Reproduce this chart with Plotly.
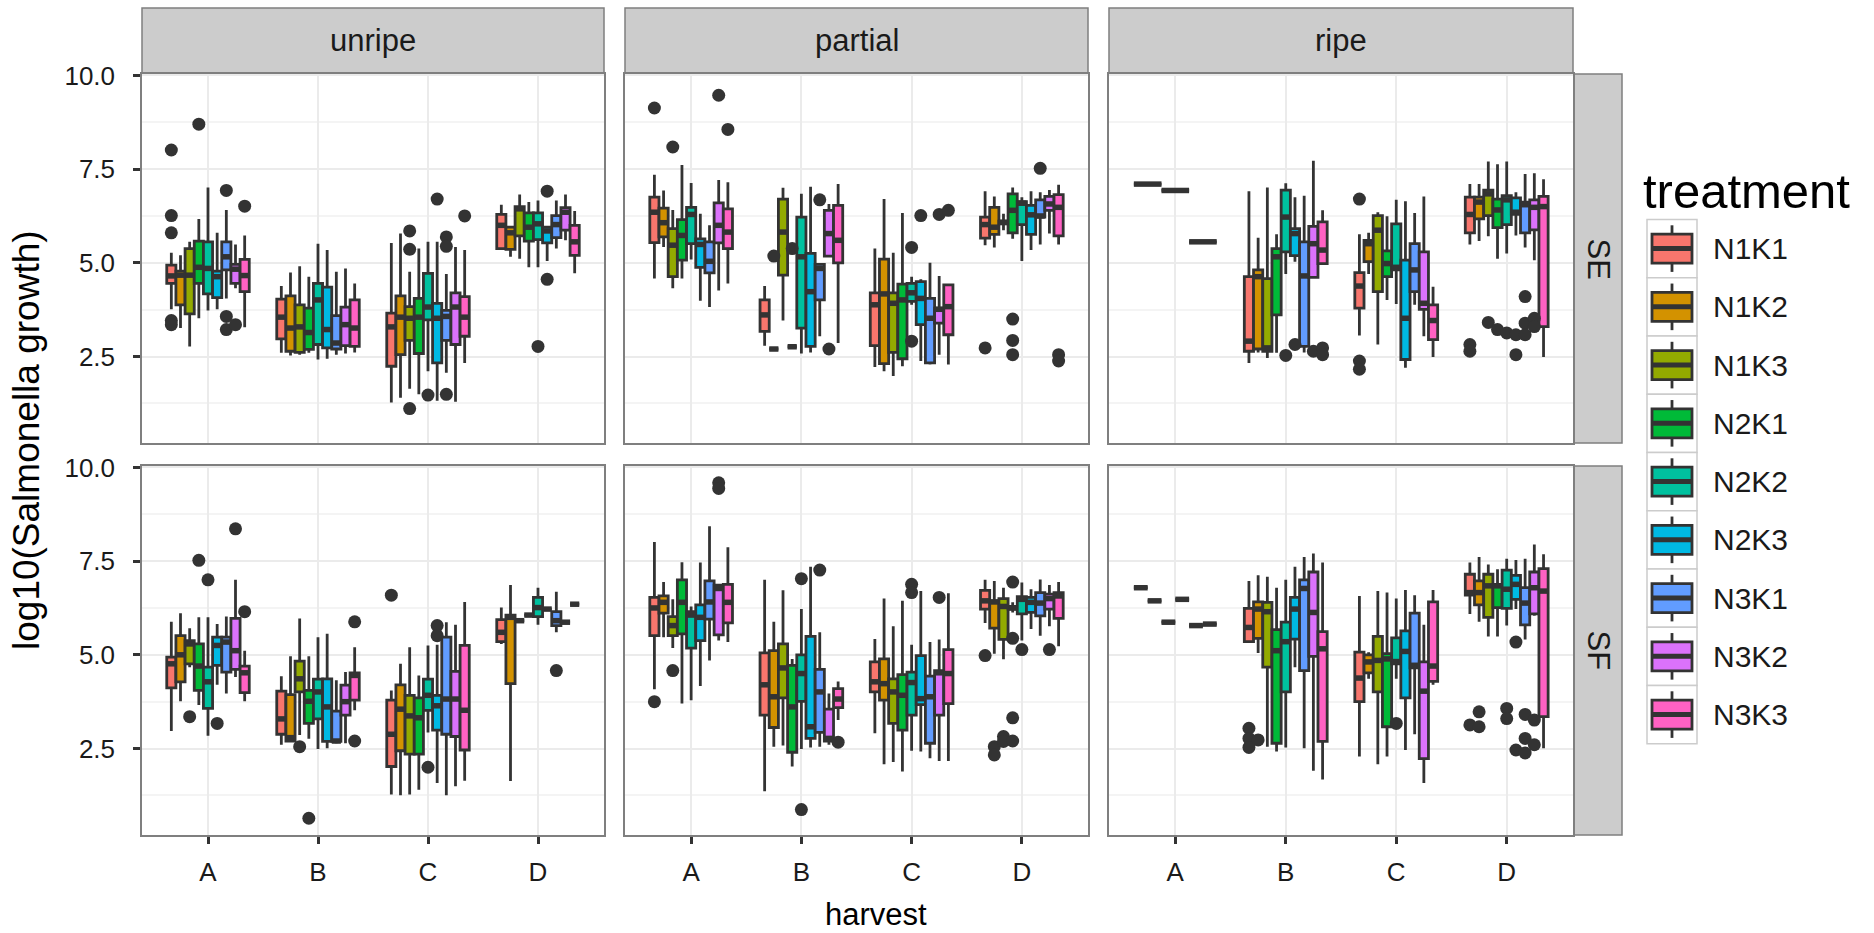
import plotly.graph_objects as go

harvests = ["A", "B", "C", "D"]
treatments = ["N1K1", "N1K2", "N1K3", "N2K1", "N2K2", "N2K3", "N3K1", "N3K2", "N3K3"]
colors = ["#F8766D", "#D39200", "#93AA00", "#00BA38", "#00C19F",
          "#00B9E3", "#619CFF", "#DB72FB", "#FF61C3"]
ripeness = ["unripe", "partial", "ripe"]
strains = ["SE", "SF"]

# box statistics: (harvest, treatment, lower whisker, q1, median, q3, upper whisker)
SE_unripe = [
    ("A", "N1K1", 3.76, 4.45, 4.65, 4.94, 5.27), ("A", "N1K2", 3.26, 3.88, 4.67, 4.78, 5.20),
    ("A", "N1K3", 2.77, 3.64, 4.67, 5.38, 5.56), ("A", "N2K1", 3.52, 4.45, 4.88, 5.58, 6.17),
    ("A", "N2K2", 3.73, 4.17, 4.85, 5.56, 7.01), ("A", "N2K3", 3.76, 4.07, 4.63, 4.78, 5.80),
    ("A", "N3K1", 4.05, 4.81, 5.16, 5.56, 6.41), ("A", "N3K2", 4.32, 4.45, 4.83, 4.96, 5.49),
    ("A", "N3K3", 3.28, 4.23, 4.66, 5.09, 5.73),
    ("B", "N1K1", 2.60, 2.97, 3.55, 4.03, 4.38), ("B", "N1K2", 2.53, 2.64, 3.26, 4.12, 4.74),
    ("B", "N1K3", 2.55, 2.61, 3.29, 3.88, 4.91), ("B", "N2K1", 2.60, 2.69, 3.14, 3.79, 4.63),
    ("B", "N2K2", 2.42, 2.82, 4.01, 4.45, 5.51), ("B", "N2K3", 2.44, 2.73, 3.22, 4.35, 5.34),
    ("B", "N3K1", 2.55, 2.70, 2.86, 3.59, 4.76), ("B", "N3K2", 2.58, 2.79, 3.35, 3.82, 4.85),
    ("B", "N3K3", 2.61, 2.77, 3.26, 4.01, 4.45),
    ("C", "N1K1", 1.27, 2.24, 3.29, 3.66, 5.53), ("C", "N1K2", 1.40, 2.55, 3.55, 4.12, 5.78),
    ("C", "N1K3", 1.64, 2.93, 3.52, 3.83, 4.76), ("C", "N2K1", 1.49, 2.58, 3.55, 4.05, 5.38),
    ("C", "N2K2", 2.11, 3.48, 3.82, 4.72, 5.56), ("C", "N2K3", 1.32, 2.33, 3.52, 3.92, 5.56),
    ("C", "N3K1", 2.07, 2.93, 3.57, 3.73, 4.70), ("C", "N3K2", 1.29, 2.82, 3.82, 4.20, 5.42),
    ("C", "N3K3", 2.33, 3.04, 3.55, 4.10, 5.34),
    ("D", "N1K1", 5.38, 5.38, 6.00, 6.29, 6.55), ("D", "N1K2", 5.16, 5.36, 5.80, 5.95, 5.95),
    ("D", "N1K3", 5.11, 5.72, 6.44, 6.50, 6.82), ("D", "N2K1", 4.88, 5.58, 5.95, 6.33, 6.62),
    ("D", "N2K2", 4.88, 5.62, 6.04, 6.33, 6.66), ("D", "N2K3", 5.05, 5.53, 5.85, 5.95, 5.95),
    ("D", "N3K1", 5.38, 5.67, 6.02, 6.26, 6.66), ("D", "N3K2", 5.60, 5.87, 6.35, 6.47, 6.82),
    ("D", "N3K3", 4.72, 5.20, 5.56, 6.00, 6.38),
]
SE_unripe_outliers = [
    ("A", "N1K1", 8.01), ("A", "N1K1", 6.26), ("A", "N1K1", 5.80), ("A", "N1K1", 3.46),
    ("A", "N1K1", 3.35), ("A", "N2K1", 8.70), ("A", "N3K1", 6.93), ("A", "N3K1", 3.57),
    ("A", "N3K1", 3.22), ("A", "N3K2", 3.35), ("A", "N3K3", 6.51),
    ("C", "N1K3", 5.85), ("C", "N1K3", 5.36), ("C", "N1K3", 1.11), ("C", "N2K2", 1.47),
    ("C", "N2K3", 6.70), ("C", "N3K1", 5.69), ("C", "N3K1", 5.44), ("C", "N3K1", 1.49),
    ("C", "N3K3", 6.25),
    ("D", "N2K2", 2.77), ("D", "N2K3", 6.91), ("D", "N2K3", 4.56),
]

SE_partial = [
    ("A", "N1K1", 4.58, 5.54, 6.35, 6.75, 7.35), ("A", "N1K2", 5.42, 5.69, 6.07, 6.46, 6.93),
    ("A", "N1K3", 4.32, 4.63, 5.47, 5.91, 6.41), ("A", "N2K1", 4.58, 5.07, 5.73, 6.15, 7.61),
    ("A", "N2K2", 5.09, 5.51, 6.29, 6.48, 7.13), ("A", "N2K3", 3.99, 4.88, 5.49, 5.64, 6.31),
    ("A", "N3K1", 3.82, 4.73, 5.04, 5.56, 6.00), ("A", "N3K2", 4.26, 5.53, 6.00, 6.60, 7.21),
    ("A", "N3K3", 4.45, 5.38, 5.82, 6.44, 7.15),
    ("B", "N1K1", 2.79, 3.17, 3.61, 4.01, 4.38), ("B", "N1K2", 2.70, 2.70, 2.70, 2.70, 2.70),
    ("B", "N1K3", 3.46, 4.67, 5.82, 6.70, 7.00), ("B", "N2K1", 2.76, 2.76, 2.76, 2.76, 2.76),
    ("B", "N2K2", 2.58, 3.26, 5.16, 6.22, 6.84), ("B", "N2K3", 2.61, 2.77, 4.23, 5.25, 7.03),
    ("B", "N3K1", 3.04, 4.01, 4.85, 4.96, 4.96), ("B", "N3K2", 5.18, 5.18, 5.78, 6.40, 6.57),
    ("B", "N3K3", 2.86, 5.00, 5.60, 6.53, 7.10),
    ("C", "N1K1", 2.22, 2.79, 3.88, 4.20, 5.38), ("C", "N1K2", 2.11, 2.31, 4.17, 5.10, 6.70),
    ("C", "N1K3", 1.98, 2.61, 3.92, 4.20, 5.27), ("C", "N2K1", 2.24, 2.44, 4.01, 4.43, 6.33),
    ("C", "N2K2", 3.88, 3.97, 4.20, 4.45, 4.63), ("C", "N2K3", 2.38, 3.35, 4.05, 4.50, 4.56),
    ("C", "N3K1", 2.29, 2.33, 3.52, 4.05, 5.00), ("C", "N3K2", 2.55, 3.39, 3.76, 3.79, 4.65),
    ("C", "N3K3", 2.29, 3.08, 3.83, 4.41, 4.41),
    ("D", "N1K1", 5.47, 5.66, 6.02, 6.22, 6.91), ("D", "N1K2", 5.41, 5.76, 5.95, 6.48, 6.77),
    ("D", "N1K3", 5.87, 6.04, 6.08, 6.11, 6.31), ("D", "N2K1", 5.64, 5.80, 6.40, 6.84, 7.01),
    ("D", "N2K2", 5.05, 6.02, 6.59, 6.63, 6.75), ("D", "N2K3", 5.34, 5.76, 6.28, 6.53, 6.91),
    ("D", "N3K1", 5.49, 6.22, 6.25, 6.68, 6.88), ("D", "N3K2", 5.78, 6.40, 6.57, 6.77, 6.94),
    ("D", "N3K3", 5.49, 5.72, 6.48, 6.82, 7.08),
]
SE_partial_outliers = [
    ("A", "N1K1", 9.13), ("A", "N1K3", 8.09), ("A", "N3K2", 9.47), ("A", "N3K3", 8.56),
    ("B", "N1K2", 5.18), ("B", "N2K1", 5.38), ("B", "N3K1", 6.68), ("B", "N3K2", 2.70),
    ("C", "N2K2", 5.41), ("C", "N2K2", 2.91), ("C", "N2K3", 6.26), ("C", "N3K2", 6.29),
    ("C", "N3K3", 6.40),
    ("D", "N1K1", 2.73), ("D", "N2K1", 3.50), ("D", "N2K1", 2.93), ("D", "N2K1", 2.55),
    ("D", "N3K1", 7.52), ("D", "N3K3", 2.55), ("D", "N3K3", 2.38),
]

SE_ripe = [
    ("A", "N1K1", 7.10, 7.10, 7.10, 7.10, 7.10), ("A", "N1K2", 6.93, 6.93, 6.93, 6.93, 6.93),
    ("A", "N1K3", 5.56, 5.56, 5.56, 5.56, 5.56),
    ("B", "N1K1", 2.33, 2.64, 2.91, 4.63, 6.91), ("B", "N1K2", 2.61, 2.70, 4.63, 4.81, 5.67),
    ("B", "N1K3", 2.46, 2.64, 2.73, 4.58, 7.01), ("B", "N2K1", 2.60, 3.61, 5.16, 5.38, 5.76),
    ("B", "N2K2", 4.70, 5.29, 6.22, 6.94, 7.12), ("B", "N2K3", 5.03, 5.19, 5.78, 5.91, 6.75),
    ("B", "N3K1", 2.61, 2.77, 4.65, 5.56, 6.79), ("B", "N3K2", 4.61, 4.61, 5.51, 5.97, 7.72),
    ("B", "N3K3", 4.98, 4.98, 5.34, 6.09, 6.40),
    ("C", "N1K1", 3.06, 3.79, 4.38, 4.74, 5.76), ("C", "N1K2", 4.70, 5.03, 5.51, 5.60, 5.80),
    ("C", "N1K3", 2.82, 4.23, 5.87, 6.26, 6.35), ("C", "N2K1", 4.01, 4.63, 4.98, 5.32, 6.24),
    ("C", "N2K2", 3.90, 4.81, 4.88, 6.04, 6.68), ("C", "N2K3", 2.20, 2.42, 3.52, 5.07, 6.64),
    ("C", "N3K1", 3.88, 4.23, 4.81, 5.51, 6.33), ("C", "N3K2", 3.04, 3.76, 3.92, 5.29, 6.77),
    ("C", "N3K3", 2.49, 2.95, 3.46, 3.88, 4.36),
    ("D", "N1K1", 5.49, 5.80, 6.29, 6.75, 7.10), ("D", "N1K2", 5.58, 6.17, 6.62, 6.75, 7.10),
    ("D", "N1K3", 5.71, 6.26, 6.84, 6.94, 7.70), ("D", "N2K1", 5.11, 5.94, 6.41, 6.70, 7.63),
    ("D", "N2K2", 5.25, 6.02, 6.68, 6.79, 7.70), ("D", "N2K3", 5.73, 6.29, 6.35, 6.73, 6.88),
    ("D", "N3K1", 5.41, 5.80, 6.55, 6.62, 7.37), ("D", "N3K2", 5.07, 5.88, 6.48, 6.68, 7.39),
    ("D", "N3K3", 2.49, 3.30, 6.50, 6.77, 7.23),
]
SE_ripe_outliers = [
    ("B", "N2K2", 2.53), ("B", "N2K3", 2.82), ("B", "N3K2", 2.64), ("B", "N3K3", 2.73),
    ("B", "N3K3", 2.55),
    ("C", "N1K1", 6.70), ("C", "N1K1", 2.38), ("C", "N1K1", 2.16),
    ("D", "N1K1", 2.82), ("D", "N1K1", 2.64), ("D", "N1K3", 3.41), ("D", "N2K1", 3.22),
    ("D", "N2K2", 3.13), ("D", "N2K3", 3.08), ("D", "N2K3", 2.55), ("D", "N3K1", 4.10),
    ("D", "N3K1", 3.39), ("D", "N3K1", 3.08), ("D", "N3K2", 3.52), ("D", "N3K2", 3.30),
]

SF_unripe = [
    ("A", "N1K1", 2.97, 4.12, 4.76, 4.94, 5.88), ("A", "N1K2", 3.76, 4.28, 5.00, 5.51, 6.11),
    ("A", "N1K3", 4.67, 4.76, 5.29, 5.38, 5.71), ("A", "N2K1", 3.66, 4.05, 4.70, 5.29, 6.00),
    ("A", "N2K2", 2.84, 3.57, 4.28, 4.67, 6.00), ("A", "N2K3", 4.20, 4.72, 5.25, 5.47, 5.82),
    ("A", "N3K1", 3.97, 4.54, 5.34, 5.47, 6.02), ("A", "N3K2", 4.41, 4.61, 5.11, 5.97, 7.00),
    ("A", "N3K3", 3.76, 3.99, 4.52, 4.70, 5.11),
    ("B", "N1K1", 2.60, 2.88, 3.29, 4.03, 4.43), ("B", "N1K2", 2.67, 2.70, 2.79, 3.94, 4.96),
    ("B", "N1K3", 2.86, 4.01, 4.36, 4.83, 5.97), ("B", "N2K1", 2.76, 3.17, 3.76, 4.05, 4.96),
    ("B", "N2K2", 2.49, 3.29, 4.01, 4.35, 5.47), ("B", "N2K3", 2.51, 2.69, 3.61, 4.36, 5.56),
    ("B", "N3K1", 2.64, 2.69, 2.70, 3.50, 4.32), ("B", "N3K2", 2.64, 3.39, 3.75, 4.19, 4.54),
    ("B", "N3K3", 3.52, 3.79, 4.45, 4.52, 5.20),
    ("C", "N1K1", 1.27, 2.02, 2.88, 3.79, 4.05), ("C", "N1K2", 1.25, 2.44, 3.55, 4.20, 4.76),
    ("C", "N1K3", 1.27, 2.35, 3.37, 3.92, 5.20), ("C", "N2K1", 1.40, 2.35, 3.32, 3.85, 4.45),
    ("C", "N2K2", 2.93, 3.52, 3.92, 4.35, 5.25), ("C", "N2K3", 1.58, 2.99, 3.64, 3.92, 5.27),
    ("C", "N3K1", 1.25, 2.88, 3.82, 5.47, 5.87), ("C", "N3K2", 1.49, 2.82, 3.82, 4.56, 5.80),
    ("C", "N3K3", 1.64, 2.46, 3.52, 5.25, 6.41),
    ("D", "N1K1", 5.29, 5.35, 5.60, 5.94, 6.26), ("D", "N1K2", 1.63, 4.23, 6.00, 6.06, 6.86),
    ("D", "N1K3", 5.91, 5.91, 5.91, 5.91, 5.91), ("D", "N2K1", 6.06, 6.06, 6.06, 6.06, 6.06),
    ("D", "N2K2", 5.80, 6.02, 6.26, 6.53, 6.79), ("D", "N2K3", 6.22, 6.22, 6.22, 6.22, 6.22),
    ("D", "N3K1", 5.60, 5.78, 5.91, 6.15, 6.68), ("D", "N3K2", 5.87, 5.87, 5.87, 5.87, 5.87),
    ("D", "N3K3", 6.35, 6.35, 6.35, 6.35, 6.35),
]
SF_unripe_outliers = [
    ("A", "N1K3", 3.35), ("A", "N2K1", 7.52), ("A", "N2K2", 7.00), ("A", "N2K3", 3.17),
    ("A", "N3K2", 8.36), ("A", "N3K3", 6.15),
    ("B", "N1K3", 2.55), ("B", "N2K1", 0.64), ("B", "N3K3", 5.88), ("B", "N3K3", 2.70),
    ("C", "N1K1", 6.59), ("C", "N2K2", 2.00), ("C", "N2K3", 5.78), ("C", "N2K3", 5.51),
    ("D", "N3K1", 4.58),
]

SF_partial = [
    ("A", "N1K1", 4.08, 5.51, 6.25, 6.53, 8.01), ("A", "N1K2", 5.47, 6.11, 6.40, 6.57, 6.94),
    ("A", "N1K3", 5.18, 5.51, 5.78, 6.02, 6.48), ("A", "N2K1", 3.70, 5.56, 6.40, 7.00, 7.47),
    ("A", "N2K2", 3.79, 5.18, 6.06, 6.15, 6.29), ("A", "N2K3", 4.17, 5.38, 6.00, 6.33, 7.46),
    ("A", "N3K1", 4.85, 5.95, 6.41, 6.97, 8.43), ("A", "N3K2", 5.38, 5.53, 6.77, 6.86, 6.86),
    ("A", "N3K3", 5.34, 5.85, 6.40, 6.88, 7.87),
    ("B", "N1K1", 1.36, 3.39, 4.20, 5.05, 7.00), ("B", "N1K2", 2.55, 3.06, 3.88, 5.11, 5.88),
    ("B", "N1K3", 2.58, 3.85, 4.65, 5.29, 6.72), ("B", "N2K1", 2.02, 2.40, 3.61, 4.72, 4.89),
    ("B", "N2K2", 2.49, 3.76, 4.50, 5.00, 6.22), ("B", "N2K3", 2.53, 2.77, 3.08, 5.49, 7.35),
    ("B", "N3K1", 2.55, 2.93, 4.01, 4.61, 5.60), ("B", "N3K2", 2.60, 2.70, 2.77, 3.55, 3.97),
    ("B", "N3K3", 3.26, 3.59, 3.82, 4.10, 4.29),
    ("C", "N1K1", 2.91, 4.01, 4.28, 4.81, 5.42), ("C", "N1K2", 2.08, 3.79, 4.23, 4.89, 6.50),
    ("C", "N1K3", 2.14, 3.17, 4.01, 4.36, 5.76), ("C", "N2K1", 1.89, 2.99, 3.92, 4.47, 6.44),
    ("C", "N2K2", 2.44, 3.39, 4.26, 4.54, 5.27), ("C", "N2K3", 2.42, 3.67, 3.83, 4.98, 6.70),
    ("C", "N3K1", 2.24, 2.64, 3.88, 4.43, 5.34), ("C", "N3K2", 2.17, 3.39, 4.52, 4.58, 5.41),
    ("C", "N3K3", 2.17, 3.70, 4.50, 5.14, 6.64),
    ("D", "N1K1", 5.85, 6.22, 6.44, 6.72, 7.00), ("D", "N1K2", 5.03, 5.71, 6.41, 6.44, 6.97),
    ("D", "N1K3", 4.88, 5.41, 6.29, 6.50, 6.79), ("D", "N2K1", 6.13, 6.22, 6.25, 6.29, 6.40),
    ("D", "N2K2", 5.38, 6.09, 6.48, 6.55, 6.93), ("D", "N2K3", 5.69, 6.13, 6.40, 6.53, 6.75),
    ("D", "N3K1", 5.51, 6.04, 6.38, 6.66, 7.01), ("D", "N3K2", 5.76, 6.22, 6.50, 6.62, 6.86),
    ("D", "N3K3", 5.23, 5.97, 6.57, 6.66, 6.94),
]
SF_partial_outliers = [
    ("A", "N1K1", 3.75), ("A", "N1K3", 4.58), ("A", "N3K2", 9.59), ("A", "N3K2", 9.44),
    ("B", "N2K2", 7.03), ("B", "N2K2", 0.87), ("B", "N3K1", 7.26), ("B", "N3K3", 2.67),
    ("C", "N2K2", 6.88), ("C", "N2K2", 6.66), ("C", "N3K2", 6.53),
    ("D", "N1K1", 4.98), ("D", "N1K2", 2.55), ("D", "N1K2", 2.33), ("D", "N1K3", 2.82),
    ("D", "N1K3", 2.69), ("D", "N2K1", 6.94), ("D", "N2K1", 5.44), ("D", "N2K1", 3.32),
    ("D", "N2K1", 2.70), ("D", "N2K2", 5.14), ("D", "N3K2", 5.14),
]

SF_ripe = [
    ("A", "N1K1", 6.79, 6.79, 6.79, 6.79, 6.79), ("A", "N1K2", 6.44, 6.44, 6.44, 6.44, 6.44),
    ("A", "N1K3", 5.87, 5.87, 5.87, 5.87, 5.87), ("A", "N2K1", 6.48, 6.48, 6.48, 6.48, 6.48),
    ("A", "N2K2", 5.78, 5.78, 5.78, 5.78, 5.78), ("A", "N2K3", 5.82, 5.82, 5.82, 5.82, 5.82),
    ("B", "N1K1", 5.35, 5.35, 5.73, 6.24, 6.97), ("B", "N1K2", 5.05, 5.44, 6.22, 6.41, 7.12),
    ("B", "N1K3", 2.55, 4.67, 6.15, 6.40, 7.08), ("B", "N2K1", 2.42, 2.64, 5.11, 5.67, 6.79),
    ("B", "N2K2", 2.53, 4.01, 5.35, 5.87, 7.00), ("B", "N2K3", 4.67, 5.42, 6.22, 6.53, 7.35),
    ("B", "N3K1", 2.51, 4.58, 6.77, 7.00, 7.61), ("B", "N3K2", 1.91, 4.96, 6.13, 7.21, 7.70),
    ("B", "N3K3", 1.67, 2.69, 5.16, 5.62, 7.46),
    ("C", "N1K1", 2.29, 3.75, 4.38, 5.07, 6.57), ("C", "N1K2", 4.36, 4.52, 4.81, 5.00, 5.07),
    ("C", "N1K3", 2.08, 4.01, 4.85, 5.49, 6.70), ("C", "N2K1", 2.29, 3.08, 4.89, 5.03, 6.66),
    ("C", "N2K2", 4.36, 4.76, 4.82, 5.45, 6.50), ("C", "N2K3", 2.46, 3.85, 5.09, 5.64, 6.73),
    ("C", "N3K1", 2.88, 4.65, 4.72, 6.11, 6.59), ("C", "N3K2", 1.58, 2.23, 4.03, 4.81, 5.80),
    ("C", "N3K3", 4.20, 4.29, 4.70, 6.41, 6.73),
    ("D", "N1K1", 6.09, 6.59, 6.66, 7.15, 7.46), ("D", "N1K2", 5.88, 6.33, 6.66, 6.97, 7.61),
    ("D", "N1K3", 5.49, 6.00, 6.84, 7.15, 7.41), ("D", "N2K1", 5.49, 6.26, 6.84, 6.88, 7.28),
    ("D", "N2K2", 5.78, 6.24, 6.75, 7.26, 7.56), ("D", "N2K3", 6.22, 6.48, 6.88, 7.12, 7.53),
    ("D", "N3K1", 5.41, 5.80, 6.38, 6.79, 7.56), ("D", "N3K2", 6.04, 6.09, 6.79, 7.21, 7.94),
    ("D", "N3K3", 2.51, 3.35, 6.70, 7.30, 7.68),
]
SF_ripe_outliers = [
    ("B", "N1K1", 3.04), ("B", "N1K1", 2.77), ("B", "N1K1", 2.53), ("B", "N1K2", 2.73),
    ("C", "N2K2", 3.17),
    ("D", "N1K1", 3.13), ("D", "N1K2", 3.48), ("D", "N1K2", 3.08), ("D", "N2K2", 3.57),
    ("D", "N2K2", 3.30), ("D", "N2K3", 5.34), ("D", "N2K3", 2.46), ("D", "N3K1", 3.41),
    ("D", "N3K1", 2.77), ("D", "N3K1", 2.38), ("D", "N3K2", 3.26), ("D", "N3K2", 2.60),
]

panels = {
    ("SE", "unripe"): (SE_unripe, SE_unripe_outliers),
    ("SE", "partial"): (SE_partial, SE_partial_outliers),
    ("SE", "ripe"): (SE_ripe, SE_ripe_outliers),
    ("SF", "unripe"): (SF_unripe, SF_unripe_outliers),
    ("SF", "partial"): (SF_partial, SF_partial_outliers),
    ("SF", "ripe"): (SF_ripe, SF_ripe_outliers),
}

W, H = 1874, 933
FONT = "Liberation Sans, Arial, sans-serif"
TXT = "#1a1a1a"
DARK = "#333333"
DODGE = 0.75

# layout geometry in pixels
col_px = [(142, 604), (625, 1088), (1109, 1573)]
row_px = [(74, 443), (466, 835)]
strip_top = (8, 73)
strip_right = (1574, 1622)


def px_x(v):
    return v / W


def px_y(v):
    return 1 - v / H


# shared y-range (ggplot style 5% expansion)
allv = []
for rows, outs in panels.values():
    for r in rows:
        allv += list(r[2:])
    allv += [o[2] for o in outs]
lo, hi = min(allv), max(allv)
pad = (hi - lo) * 0.05
yrange = [lo - pad, hi + pad]


def dodge_positions(rows):
    pos = {}
    for hi_, h in enumerate(harvests):
        present = sorted([r[1] for r in rows if r[0] == h], key=treatments.index)
        n = len(present)
        if n == 0:
            continue
        w = DODGE / n
        for k, t in enumerate(present):
            pos[(h, t)] = (hi_ + 1 - DODGE / 2 + (k + 0.5) * w, w)
    return pos


fig = go.Figure()
layout = {}
for ri, s in enumerate(strains):
    for ci, rp in enumerate(ripeness):
        idx = ri * 3 + ci + 1
        xa = "x" if idx == 1 else f"x{idx}"
        ya = "y" if idx == 1 else f"y{idx}"
        rows, outs = panels[(s, rp)]
        pos = dodge_positions(rows)
        mx, my = [], []
        for (h, t, lw, q1, md, q3, uw) in sorted(
                rows, key=lambda r: (harvests.index(r[0]), treatments.index(r[1]))):
            xc, w = pos[(h, t)]
            col = colors[treatments.index(t)]
            fig.add_trace(go.Box(
                x=[xc], q1=[q1], median=[md], q3=[q3], lowerfence=[lw], upperfence=[uw],
                width=w, fillcolor=col, line=dict(color=DARK, width=2.8),
                whiskerwidth=0, boxpoints=False, name=t, legendgroup=t,
                showlegend=False, xaxis=xa, yaxis=ya, hoverinfo="y+name",
            ))
            mx += [xc - w / 2, xc + w / 2, None]
            my += [md, md, None]
        # thicker median bars (ggplot "fatten")
        fig.add_trace(go.Scatter(
            x=mx, y=my, mode="lines", line=dict(color=DARK, width=5.5),
            showlegend=False, xaxis=xa, yaxis=ya, hoverinfo="skip",
        ))
        ox = [pos[(h, t)][0] for (h, t, v) in outs]
        oy = [v for (h, t, v) in outs]
        fig.add_trace(go.Scatter(
            x=ox, y=oy, mode="markers", marker=dict(size=13, color=DARK),
            showlegend=False, xaxis=xa, yaxis=ya, hoverinfo="y",
        ))
        x0, x1 = col_px[ci]
        y0, y1 = row_px[ri]
        kx = "xaxis" if idx == 1 else f"xaxis{idx}"
        ky = "yaxis" if idx == 1 else f"yaxis{idx}"
        layout[kx] = dict(
            domain=[px_x(x0), px_x(x1)], anchor=ya, range=[0.4, 4.6], automargin=False,
            tickvals=[1, 2, 3, 4], ticktext=harvests, showticklabels=(ri == 1),
            ticks="outside" if ri == 1 else "", ticklen=7, tickwidth=2.5, tickcolor=DARK,
            ticklabelstandoff=6,
            showgrid=True, gridcolor="#ebebeb", gridwidth=1.5, zeroline=False,
            showline=True, mirror=True, linecolor="#7f7f7f", linewidth=1.5,
            tickfont=dict(family=FONT, size=26, color=TXT), fixedrange=True,
        )
        layout[ky] = dict(
            domain=[px_y(y1), px_y(y0)], anchor=xa, range=yrange, automargin=False,
            tickvals=[2.5, 5.0, 7.5, 10.0], ticktext=["2.5", "5.0", "7.5", "10.0"],
            showticklabels=(ci == 0), ticks="outside" if ci == 0 else "", ticklen=7,
            tickwidth=2.5, tickcolor=DARK, ticklabelstandoff=13,
            showgrid=True, gridcolor="#ebebeb", gridwidth=1.5, zeroline=False,
            minor=dict(tickvals=[1.25, 3.75, 6.25, 8.75], showgrid=True,
                       gridcolor="#f4f4f4", gridwidth=1.5, ticks=""),
            showline=True, mirror=True, linecolor="#7f7f7f", linewidth=1.5,
            tickfont=dict(family=FONT, size=26, color=TXT), fixedrange=True,
        )

shapes = []
annotations = []
for ci, rp in enumerate(ripeness):
    x0, x1 = col_px[ci]
    shapes.append(dict(type="rect", xref="paper", yref="paper",
                       x0=px_x(x0), x1=px_x(x1), y0=px_y(strip_top[1]), y1=px_y(strip_top[0]),
                       fillcolor="#cccccc", line=dict(color="#7f7f7f", width=1.5), layer="below"))
    annotations.append(dict(text=rp, xref="paper", yref="paper", showarrow=False,
                            x=px_x((x0 + x1) / 2), y=px_y(sum(strip_top) / 2),
                            xanchor="center", yanchor="middle",
                            font=dict(family=FONT, size=31, color=TXT)))
for ri, s in enumerate(strains):
    y0, y1 = row_px[ri]
    shapes.append(dict(type="rect", xref="paper", yref="paper",
                       x0=px_x(strip_right[0]), x1=px_x(strip_right[1]), y0=px_y(y1), y1=px_y(y0),
                       fillcolor="#cccccc", line=dict(color="#7f7f7f", width=1.5), layer="below"))
    annotations.append(dict(text=s, xref="paper", yref="paper", showarrow=False, textangle=90,
                            x=px_x(sum(strip_right) / 2), y=px_y((y0 + y1) / 2),
                            xanchor="center", yanchor="middle",
                            font=dict(family=FONT, size=31, color=TXT)))

annotations.append(dict(text="harvest", xref="paper", yref="paper", showarrow=False,
                        x=px_x(876), y=px_y(914), xanchor="center", yanchor="middle",
                        font=dict(family=FONT, size=31, color="#000000")))
annotations.append(dict(text="log10(Salmonella growth)", xref="paper", yref="paper",
                        showarrow=False, textangle=-90, x=px_x(26), y=px_y(440),
                        xanchor="center", yanchor="middle",
                        font=dict(family=FONT, size=37, color="#000000")))

# legend (ggplot style keys)
LEG_X0, LEG_X1 = 1647, 1697
KEY_H = 58.25
KEY_Y0 = 248.6
annotations.append(dict(text="treatment", xref="paper", yref="paper", showarrow=False,
                        x=px_x(1641), y=px_y(191), xanchor="left", yanchor="middle",
                        font=dict(family=FONT, size=49, color="#000000")))
for k, t in enumerate(treatments):
    cy = KEY_Y0 + k * KEY_H
    top, bot = cy - KEY_H / 2, cy + KEY_H / 2
    cx = (LEG_X0 + LEG_X1) / 2
    kw = LEG_X1 - LEG_X0
    shapes.append(dict(type="rect", xref="paper", yref="paper",
                       x0=px_x(LEG_X0), x1=px_x(LEG_X1), y0=px_y(bot), y1=px_y(top),
                       fillcolor="white", line=dict(color="#cccccc", width=1.5)))
    shapes.append(dict(type="line", xref="paper", yref="paper",
                       x0=px_x(cx), x1=px_x(cx), y0=px_y(cy + 0.4 * KEY_H), y1=px_y(cy - 0.4 * KEY_H),
                       line=dict(color=DARK, width=2.8)))
    shapes.append(dict(type="rect", xref="paper", yref="paper",
                       x0=px_x(LEG_X0 + 0.1 * kw), x1=px_x(LEG_X1 - 0.1 * kw),
                       y0=px_y(cy + 0.25 * KEY_H), y1=px_y(cy - 0.25 * KEY_H),
                       fillcolor=colors[k], line=dict(color=DARK, width=2.8)))
    shapes.append(dict(type="line", xref="paper", yref="paper",
                       x0=px_x(LEG_X0 + 0.1 * kw), x1=px_x(LEG_X1 - 0.1 * kw),
                       y0=px_y(cy), y1=px_y(cy), line=dict(color=DARK, width=5)))
    annotations.append(dict(text=t, xref="paper", yref="paper", showarrow=False,
                            x=px_x(1711), y=px_y(cy), xanchor="left", yanchor="middle",
                            font=dict(family=FONT, size=30, color=TXT)))

fig.update_layout(
    width=W, height=H, margin=dict(l=0, r=0, t=0, b=0, autoexpand=False),
    paper_bgcolor="white", plot_bgcolor="white", boxmode="overlay",
    showlegend=False, shapes=shapes, annotations=annotations,
    **layout,
)
fig.write_html("out.html")
